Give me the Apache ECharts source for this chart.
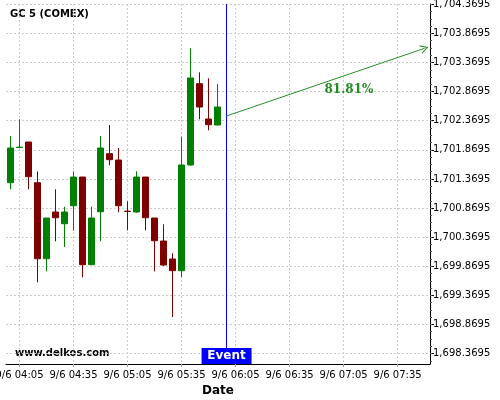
<!DOCTYPE html>
<html>
<head>
<meta charset="utf-8">
<script src="https://cdn.jsdelivr.net/npm/echarts@6/dist/echarts.min.js"></script>
<style>
  html, body { margin: 0; padding: 0; background: #fff; }
  #chart { width: 500px; height: 400px; }
</style>
</head>
<body>
<div id="chart"></div>
<script>
// 5 minute candles, 9/6
const times = ['04:00', '04:05', '04:10', '04:15', '04:20', '04:25', '04:30', '04:35',
  '04:40', '04:45', '04:50', '04:55', '05:00', '05:05', '05:10', '05:15', '05:20',
  '05:25', '05:30', '05:35', '05:40', '05:45', '05:50', '05:55']
const opens = [1701.305, 1701.910, 1702.004, 1701.305, 1699.999, 1700.801, 1700.600, 1700.909,
  1701.402, 1699.896, 1700.806, 1701.803, 1701.695, 1700.816, 1700.801, 1701.402, 1700.698,
  1700.303, 1699.994, 1699.793, 1701.609, 1703.006, 1702.399, 1702.296]
const closes = [1701.901, 1701.915, 1701.408, 1699.999, 1700.698, 1700.703, 1700.801, 1701.402,
  1699.896, 1700.698, 1701.901, 1701.700, 1700.909, 1700.810, 1701.402, 1700.703, 1700.308,
  1699.890, 1699.793, 1701.609, 1703.104, 1702.605, 1702.301, 1702.605]
const lows = [1701.191, 1701.905, 1701.191, 1699.593, 1699.782, 1700.298, 1700.200, 1700.480,
  1699.679, 1699.896, 1700.298, 1701.604, 1700.796, 1700.487, 1700.789, 1700.487, 1699.782,
  1699.878, 1698.997, 1699.679, 1701.597, 1702.394, 1702.205, 1702.291]
const highs = [1702.107, 1702.394, 1702.004, 1701.500, 1700.698, 1701.191, 1700.892, 1701.500,
  1701.402, 1700.892, 1702.107, 1702.296, 1701.901, 1700.985, 1701.500, 1701.402, 1700.698,
  1700.590, 1700.091, 1702.095, 1703.614, 1703.201, 1703.098, 1703.000]

const xTickLabels = ['04:05', '04:35', '05:05', '05:35', '06:05', '06:35', '07:05', '07:35']
const yTicks = [1698.3695, 1698.8695, 1699.3695, 1699.8695, 1700.3695, 1700.8695, 1701.3695,
  1701.8695, 1702.3695, 1702.8695, 1703.3695, 1703.8695, 1704.3695]

const eventTime = '06:00'
const arrowFrom = ['06:00', 1702.451]
const arrowTo = ['07:50', 1703.614]
const probability = '81.81%'
const probabilityAt = ['07:08', 1702.897]

const xMin = -2.5 // minutes after 04:00
const xMax = 233
const yMin = 1698.19
const yMax = 1704.375

function toMin(t) {
  const p = t.split(':')
  return (+p[0] - 4) * 60 + (+p[1])
}
function fmtTime(m) {
  const total = 4 * 60 + Math.round(m)
  const h = Math.floor(total / 60)
  const mm = total % 60
  return '9/6 ' + (h < 10 ? '0' : '') + h + ':' + (mm < 10 ? '0' : '') + mm
}
function fmtPrice(v) {
  const s = v.toFixed(4)
  const parts = s.split('.')
  return parts[0].replace(/\B(?=(\d{3})+(?!\d))/g, ',') + '.' + parts[1]
}

const candles = times.map((t, i) => [toMin(t), opens[i], closes[i], lows[i], highs[i]])

// small ticks every 0.125 on the price axis
const minorTicks = []
for (let i = 0; i <= 49; i++) {
  minorTicks.push(+(yTicks[0] - 0.125 + i * 0.125).toFixed(4))
}

const chart = echarts.init(document.getElementById('chart'))
const font = 'DejaVu Sans'
const gridBox = { left: 6, right: 70, top: 4, bottom: 36, containLabel: false, outerBoundsMode: 'none' }

chart.setOption({
  animation: false,
  backgroundColor: '#fff',
  grid: [Object.assign({}, gridBox), Object.assign({}, gridBox)],
  graphic: [
    {
      type: 'text', left: 10, top: 9,
      style: { text: 'GC 5 (COMEX)', font: 'bold 10px "DejaVu Sans"', fill: '#000' }
    },
    {
      type: 'text', left: 15, top: 348,
      style: { text: 'www.delkos.com', font: 'bold 10px "DejaVu Sans"', fill: '#000' }
    }
  ],
  xAxis: [
    {
      type: 'value',
      gridIndex: 0,
      min: xMin,
      max: xMax,
      name: 'Date',
      nameLocation: 'middle',
      nameGap: 20,
      nameTextStyle: { fontFamily: font, fontWeight: 'bold', fontSize: 12, color: '#000' },
      axisLine: { onZero: false, lineStyle: { color: '#000', width: 1 } },
      axisTick: { customValues: xTickLabels.map(toMin), length: 3, lineStyle: { color: '#999' } },
      axisLabel: {
        customValues: xTickLabels.map(toMin),
        formatter: fmtTime,
        fontFamily: font, fontSize: 10, color: '#000', margin: 6
      },
      splitLine: { show: true, lineStyle: { color: '#cccccc', type: [2, 2] } }
    },
    {
      type: 'value',
      gridIndex: 1,
      min: xMin,
      max: xMax,
      show: false
    }
  ],
  yAxis: [
    {
      type: 'value',
      gridIndex: 0,
      position: 'right',
      min: yMin,
      max: yMax,
      axisLine: { show: true, onZero: false, lineStyle: { color: '#000', width: 1 } },
      axisTick: { show: true, customValues: yTicks, length: 4, lineStyle: { color: '#000' } },
      axisLabel: {
        customValues: yTicks,
        formatter: fmtPrice,
        fontFamily: font, fontSize: 10, color: '#000', margin: 3
      },
      splitLine: { show: true, lineStyle: { color: '#cccccc', type: [2, 2] } }
    },
    {
      type: 'value',
      gridIndex: 1,
      position: 'right',
      min: yMin,
      max: yMax,
      axisLine: { show: false, onZero: false },
      axisTick: { show: true, customValues: minorTicks, length: 2, lineStyle: { color: '#555' } },
      axisLabel: { show: false },
      splitLine: { show: false }
    }
  ],
  series: [
    {
      type: 'candlestick',
      xAxisIndex: 0,
      yAxisIndex: 0,
      data: candles,
      encode: { x: 0, y: [1, 2, 3, 4] },
      barWidth: 6,
      itemStyle: {
        color: '#008000',
        color0: '#800000',
        borderColor: '#008000',
        borderColor0: '#800000',
        borderColorDoji: null,
        borderWidth: 1
      },
      markLine: {
        silent: true,
        animation: false,
        symbol: 'none',
        data: [
          {
            xAxis: toMin(eventTime),
            lineStyle: { color: '#0000ff', width: 1, type: 'solid' },
            label: { show: false }
          },
          [
            {
              coord: [toMin(arrowFrom[0]), arrowFrom[1]],
              symbol: 'none',
              lineStyle: { color: '#2a8c2a', width: 1, type: 'solid' },
              label: { show: false }
            },
            {
              coord: [toMin(arrowTo[0]), arrowTo[1]],
              symbol: 'path://M0,10 L5,0 L10,10 L8.6,10 L5,2.8 L1.4,10 Z',
              symbolSize: [9, 8]
            }
          ]
        ]
      },
      markPoint: {
        silent: true,
        animation: false,
        data: [
          {
            coord: [toMin(eventTime), yMin],
            symbol: 'rect',
            symbolSize: [50, 16],
            symbolOffset: [0, -8],
            itemStyle: { color: '#0000ff' },
            label: {
              show: true, position: 'inside', formatter: 'Event',
              color: '#fff', fontFamily: font, fontWeight: 'bold', fontSize: 12
            }
          },
          {
            coord: [toMin(probabilityAt[0]), probabilityAt[1]],
            symbol: 'circle',
            symbolSize: 1,
            itemStyle: { color: 'rgba(0,0,0,0)' },
            label: {
              show: true, position: 'inside', formatter: probability,
              color: '#228b22', fontFamily: 'DejaVu Serif', fontWeight: 'bold', fontSize: 12
            }
          }
        ]
      }
    }
  ]
})
</script>
</body>
</html>
